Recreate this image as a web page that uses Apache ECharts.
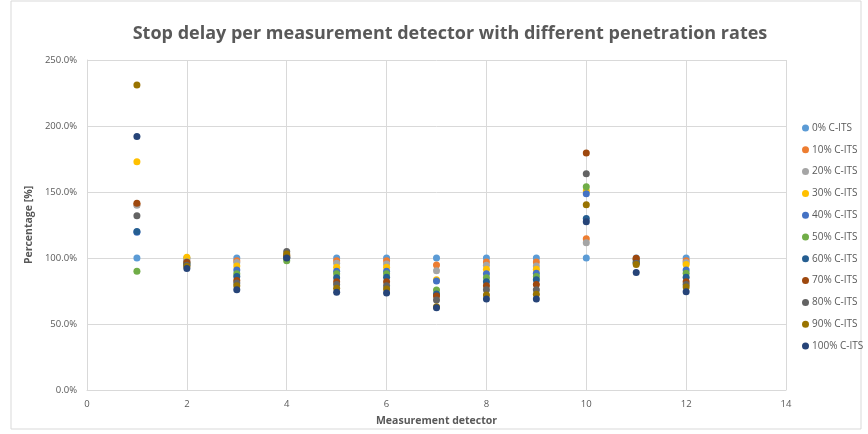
<!DOCTYPE html>
<html>
<head>
<meta charset="utf-8">
<script src="https://cdn.jsdelivr.net/npm/echarts@6/dist/echarts.min.js"></script>
<style>
  html, body { margin: 0; padding: 0; background: #ffffff; }
  #chart { width: 868px; height: 434px; }
</style>
</head>
<body>
<div id="chart"></div>
<script>
// Measurement detectors (x positions)
const detectors = [1, 2, 3, 4, 5, 6, 7, 8, 9, 10, 11, 12];

// Series names (penetration rate)
const seriesNames = ['0% C-ITS', '10% C-ITS', '20% C-ITS', '30% C-ITS', '40% C-ITS', '50% C-ITS',
  '60% C-ITS', '70% C-ITS', '80% C-ITS', '90% C-ITS', '100% C-ITS'];

// Stop delay in percent, one value per detector
const pen0   = [100, 100, 100, 100, 100, 100, 100, 100, 100, 100, 100, 100];
const pen10  = [140.5, 98, 98, 100, 98, 98, 94.7, 97, 97, 114.6, 99.5, 98];
const pen20  = [140, 99.5, 96.5, 100.5, 96, 95.5, 90.4, 94.5, 94, 111.6, 99, 96.5];
const pen30  = [173, 100.5, 94, 101, 93, 93, 83.5, 91.5, 91.5, 150.8, 99, 95];
const pen40  = [119.5, 97, 91, 100, 90, 90, 82.6, 88, 88.5, 148.7, 98.5, 91];
const pen50  = [90, 96, 88, 98, 88, 88, 75.8, 85, 86, 154, 97, 88.5];
const pen60  = [120, 95, 86, 101, 85, 85.5, 72.7, 82, 83.5, 130, 96.5, 85.5];
const pen70  = [141.5, 96.5, 83, 102, 82, 82, 71.2, 79, 80, 179.5, 99.8, 82];
const pen80  = [132, 94.5, 81, 105, 80, 79, 68.2, 76, 76, 163.9, 96, 80];
const pen90  = [231, 93.5, 79, 103, 77, 76.5, 63, 72, 72.5, 140.4, 95, 78];
const pen100 = [192, 92, 76, 100, 74, 73.5, 62.4, 69, 69, 127.5, 89, 74.5];

const seriesValues = [pen0, pen10, pen20, pen30, pen40, pen50, pen60, pen70, pen80, pen90, pen100];

const colors = ['#5B9BD5', '#ED7D31', '#A5A5A5', '#FFC000', '#4472C4', '#70AD47',
  '#255E91', '#9E480E', '#636363', '#997300', '#264478'];

const textGrey = '#595959';
const gridGrey = '#d9d9d9';
const fontFamily = 'Open Sans, Liberation Sans, sans-serif';

const chart = echarts.init(document.getElementById('chart'), null, { renderer: 'canvas' });

const series = seriesNames.map((name, i) => ({
  name: name,
  type: 'scatter',
  symbol: 'circle',
  symbolSize: 7,
  itemStyle: { color: colors[i], opacity: 1 },
  emphasis: { disabled: true },
  data: detectors.map((d, j) => [d, seriesValues[i][j]])
}));

chart.setOption({
  animation: false,
  backgroundColor: '#ffffff',
  color: colors,
  graphic: [{
    type: 'rect',
    shape: { x: 11, y: 1, width: 850, height: 428 },
    style: { fill: 'none', stroke: '#d9d9d9', lineWidth: 1 },
    silent: true
  }],
  title: {
    text: 'Stop delay per measurement detector with different penetration rates',
    left: 445,
    textAlign: 'center',
    top: 20,
    textStyle: { fontFamily: fontFamily, fontSize: 18, fontWeight: 'bold', color: textGrey }
  },
  legend: {
    orient: 'vertical',
    left: 797,
    top: 118,
    itemGap: 11.8,
    itemWidth: 7,
    itemHeight: 7,
    icon: 'circle',
    textStyle: { fontFamily: fontFamily, fontSize: 10, color: textGrey, padding: [0, 0, 0, -2] },
    data: seriesNames
  },
  grid: { left: 87, right: 82, top: 60, bottom: 44, containLabel: false },
  xAxis: {
    type: 'value',
    min: 0, max: 14, interval: 2,
    name: 'Measurement detector',
    nameLocation: 'middle',
    nameGap: 26,
    nameTextStyle: { fontFamily: fontFamily, fontSize: 10.5, fontWeight: 'bold', color: textGrey },
    axisLine: { show: true, lineStyle: { color: gridGrey } },
    axisTick: { show: false },
    axisLabel: { fontFamily: fontFamily, fontSize: 9.5, color: textGrey, margin: 9 },
    splitLine: { show: true, lineStyle: { color: gridGrey, width: 1 } }
  },
  yAxis: {
    type: 'value',
    min: 0, max: 250, interval: 50,
    name: 'Percentage [%]',
    nameLocation: 'middle',
    nameGap: 36,
    nameRotate: 90,
    nameTextStyle: { fontFamily: fontFamily, fontSize: 10.5, fontWeight: 'bold', color: textGrey },
    axisLine: { show: true, lineStyle: { color: gridGrey } },
    axisTick: { show: false },
    axisLabel: {
      fontFamily: fontFamily, fontSize: 9.5, color: textGrey, margin: 10,
      formatter: v => v.toFixed(1) + '%'
    },
    splitLine: { show: true, lineStyle: { color: gridGrey, width: 1 } }
  },
  series: series
});
</script>
</body>
</html>
